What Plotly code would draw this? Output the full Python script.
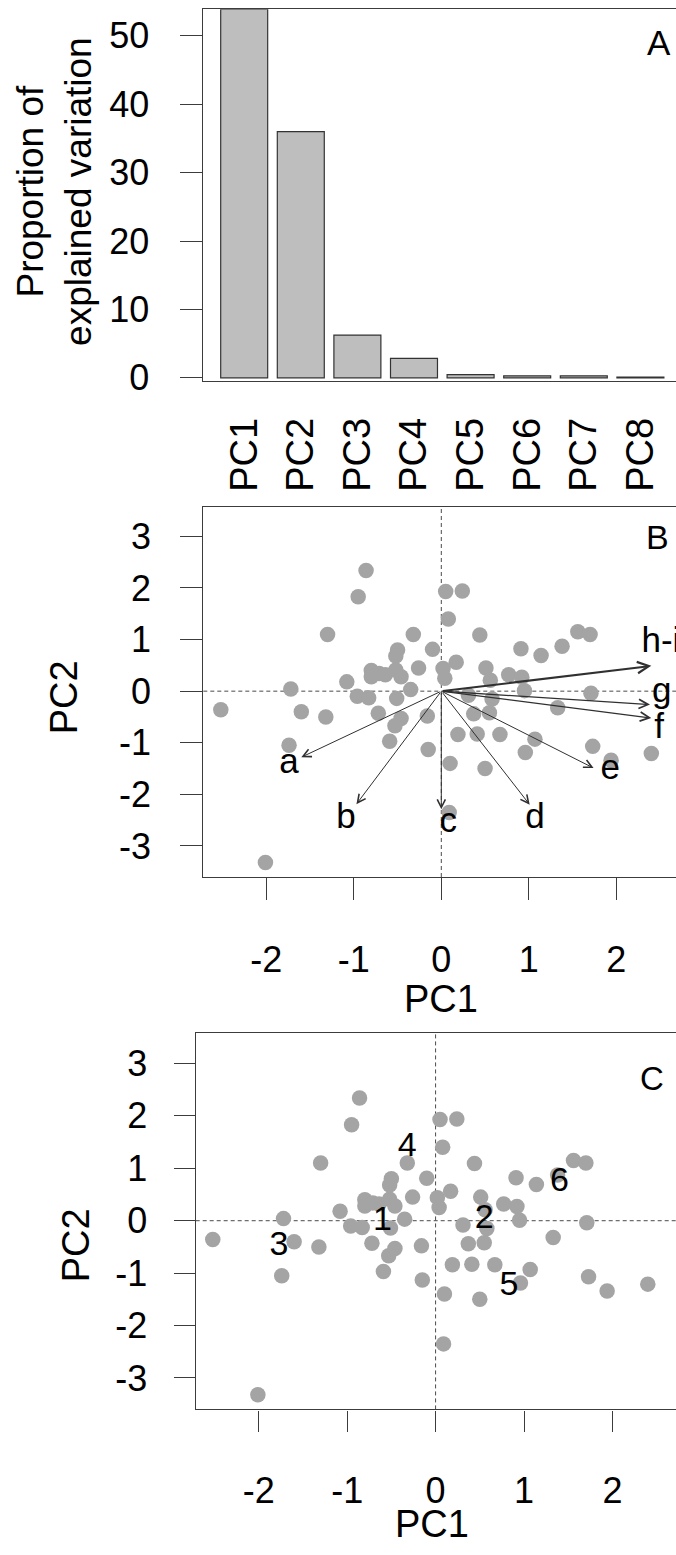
import plotly.graph_objects as go

W, H = 676, 1555

# ---------------- data ----------------
# Panel A: proportion of explained variation (%)
pc_names = ["PC1", "PC2", "PC3", "PC4", "PC5", "PC6", "PC7", "PC8"]
explained = [53.9, 36.0, 6.25, 2.83, 0.45, 0.29, 0.29, 0.09]
y_ticks_a = [0, 10, 20, 30, 40, 50]

# Panels B and C: sample scores
pc1_scores = [-2.01, -2.52, -1.72, -1.60, -1.74, -1.32, -1.30, -0.86, -0.95, -1.08,
              -0.96, -0.83, -0.80, -0.80, -0.71, -0.64, -0.52, -0.50, -0.52, -0.46,
              -0.51, -0.72, -0.46, -0.53, -0.59, -0.32, -0.10, -0.26, -0.35, -0.16,
              -0.15, 0.02, 0.04, 0.17, 0.05, 0.24, 0.08, 0.31, 0.37, 0.19,
              0.10, 0.09, 0.41, 0.50, 0.44, 0.51, 0.56, 0.58, 0.55, 0.67,
              0.77, 0.92, 0.95, 0.91, 1.14, 0.96, 1.07, 1.33, 1.38, 1.56,
              1.70, 1.71, 1.73, 1.94, 2.40]
pc2_scores = [-3.32, -0.36, 0.04, -0.40, -1.05, -0.50, 1.10, 2.34, 1.83, 0.18,
              -0.10, -0.13, 0.40, 0.28, 0.34, 0.32, 0.41, 0.80, 0.68, 0.28,
              -0.14, -0.43, -0.53, -0.67, -0.97, 1.10, 0.81, 0.45, 0.03, -0.48,
              -1.13, 0.44, 0.25, 0.56, 1.93, 1.94, 1.40, -0.08, -0.44, -0.84,
              -1.40, -2.35, -0.83, -1.50, 1.09, 0.45, 0.21, -0.15, -0.42, -0.84,
              0.32, 0.27, 0.01, 0.82, 0.69, -1.19, -0.93, -0.32, 0.87, 1.15,
              1.10, -0.04, -1.07, -1.34, -1.21]

# Panel B: variable loadings (arrow tips) and label positions
var_names = ["a", "b", "c", "d", "e", "f", "g", "h-i"]
load_pc1 = [-1.60, -0.97, 0.00, 1.01, 1.74, 2.40, 2.385, 2.40]
load_pc2 = [-1.28, -2.19, -2.29, -2.20, -1.49, -0.52, -0.26, 0.49]
var_label_pc1 = [-1.74, -1.09, 0.08, 1.07, 1.93, 2.49, 2.52, 2.51]
var_label_pc2 = [-1.42, -2.48, -2.56, -2.48, -1.54, -0.74, -0.05, 0.92]
arrow_widths = [1, 1, 1, 1, 1, 1.3, 1.3, 2.0]

# Panel C: group labels
group_names = ["1", "2", "3", "4", "5", "6"]
group_pc1 = [-0.60, 0.55, -1.77, -0.32, 0.83, 1.40]
group_pc2 = [-0.02, 0.03, -0.50, 1.39, -1.25, 0.72]

axis_ticks = [-3, -2, -1, 0, 1, 2, 3]
axis_tick_text = ["-3", "-2", "-1", "0", "1", "2", "3"]

# ---------------- layout helpers ----------------
FONT = "Liberation Sans, Arial, Helvetica, sans-serif"
LINE = "#3c3c3c"
PT = "#a4a4a4"


def px_x(p):
    return p / W


def px_y(p):
    return 1 - p / H


fig = go.Figure()

# Panel A bars
fig.add_trace(go.Bar(
    x=pc_names, y=explained, xaxis="x", yaxis="y", width=0.83,
    marker=dict(color="#bebebe", line=dict(color="#333333", width=1.2)),
    showlegend=False, hoverinfo="x+y"))

# Panel B points
fig.add_trace(go.Scatter(
    x=pc1_scores, y=pc2_scores, xaxis="x2", yaxis="y2", mode="markers",
    marker=dict(size=15.5, color=PT, line=dict(width=0)), showlegend=False))

# Panel B variable labels
fig.add_trace(go.Scatter(
    x=var_label_pc1, y=var_label_pc2, xaxis="x2", yaxis="y2", mode="text",
    text=var_names, textposition="middle center", cliponaxis=True,
    textfont=dict(family=FONT, size=35, color="black"), showlegend=False))

# Panel C points
fig.add_trace(go.Scatter(
    x=pc1_scores, y=pc2_scores, xaxis="x3", yaxis="y3", mode="markers",
    marker=dict(size=15.5, color=PT, line=dict(width=0)), showlegend=False))

# Panel C group labels
fig.add_trace(go.Scatter(
    x=group_pc1, y=group_pc2, xaxis="x3", yaxis="y3", mode="text",
    text=group_names, textposition="middle center",
    textfont=dict(family=FONT, size=34, color="black"), showlegend=False))

# Arrows (loadings)
for i in range(len(var_names)):
    fig.add_annotation(
        x=load_pc1[i], y=load_pc2[i], ax=0, ay=0,
        xref="x2", yref="y2", axref="x2", ayref="y2",
        text="", showarrow=True, arrowhead=5, arrowsize=1.6 / arrow_widths[i] ** 0.5,
        arrowwidth=arrow_widths[i], arrowcolor="#303030", standoff=0)

common_ax = dict(showgrid=False, zeroline=False, showline=True, linecolor=LINE,
                 linewidth=1.3, ticks="outside", tickcolor=LINE, tickwidth=1.3,
                 tickfont=dict(family=FONT, size=36, color="black"))

# Panel A axes
A_left, A_top, A_bot = 202.7, 9.3, 385.7
fig.update_layout(
    xaxis=dict(domain=[px_x(A_left), 1], anchor="y", type="category",
               range=[-0.733, 7.629], showgrid=False, zeroline=False,
               showline=True, mirror=True, linecolor=LINE, linewidth=1.3,
               ticks="", tickangle=-90, ticklabelstandoff=20,
               tickfont=dict(family=FONT, size=38, color="black")),
    yaxis=dict(domain=[px_y(A_bot), px_y(A_top)], anchor="x",
               range=[-0.539, 53.9], tickvals=y_ticks_a, ticklen=22,
               ticklabelstandoff=23, **common_ax),
)

# Panel B axes
B_left, B_top, B_bot = 203.3, 512.3, 886.7
fig.update_layout(
    xaxis2=dict(domain=[px_x(B_left), 1], anchor="y2", range=[-2.72, 2.682],
                tickvals=axis_ticks, ticktext=axis_tick_text,
                ticklen=22, ticklabelstandoff=29, mirror=True, **common_ax),
    yaxis2=dict(domain=[px_y(B_bot), px_y(B_top)], anchor="x2", range=[-3.602, 3.575],
                tickvals=axis_ticks, ticktext=axis_tick_text,
                ticklen=22, ticklabelstandoff=22, **common_ax),
)

# Panel C axes
C_left, C_top, C_bot = 195.7, 1044.3, 1425.0
fig.update_layout(
    xaxis3=dict(domain=[px_x(C_left), 1], anchor="y3", range=[-2.713, 2.719],
                tickvals=axis_ticks, ticktext=axis_tick_text,
                ticklen=21, ticklabelstandoff=28, mirror=True, **common_ax),
    yaxis3=dict(domain=[px_y(C_bot), px_y(C_top)], anchor="x3", range=[-3.60, 3.583],
                tickvals=axis_ticks, ticktext=axis_tick_text,
                ticklen=21, ticklabelstandoff=19, **common_ax),
)

# Dashed reference lines
for xa, ya in [("x2", "y2"), ("x3", "y3")]:
    fig.add_shape(type="line", xref=xa, yref=f"{ya} domain", x0=0, x1=0, y0=0, y1=1,
                  line=dict(color="#4a4a4a", width=1, dash="4px,3px"), layer="below")
    fig.add_shape(type="line", xref=f"{xa} domain", yref=ya, x0=0, x1=1, y0=0, y1=0,
                  line=dict(color="#4a4a4a", width=1, dash="4px,3px"), layer="below")


def ann(text, x, y, size, angle=0):
    fig.add_annotation(text=text, x=px_x(x), y=px_y(y), xref="paper", yref="paper",
                       showarrow=False, textangle=angle, xanchor="center", yanchor="middle",
                       font=dict(family=FONT, size=size, color="black"))


# Axis titles
ann("Proportion of<br>explained variation", 55, 194, 37, -90)
ann("PC2", 64, 705, 38, -90)
ann("PC1", 441, 1010, 38)
ann("PC2", 76, 1259, 38, -90)
ann("PC1", 432, 1541, 38)

# Panel letters
ann("A", 659, 43, 35)
ann("B", 657, 543, 34)
ann("C", 652, 1090, 33)

fig.update_layout(width=W, height=H, margin=dict(l=0, r=0, t=0, b=0),
                  paper_bgcolor="white", plot_bgcolor="white", showlegend=False,
                  bargap=0.17)

fig.write_html(
    "out.html",
    config={"displayModeBar": False},
    post_script="document.body.style.margin='0';document.body.style.padding='0';"
                "document.body.style.overflow='hidden';"
                "document.documentElement.style.overflow='hidden';")
